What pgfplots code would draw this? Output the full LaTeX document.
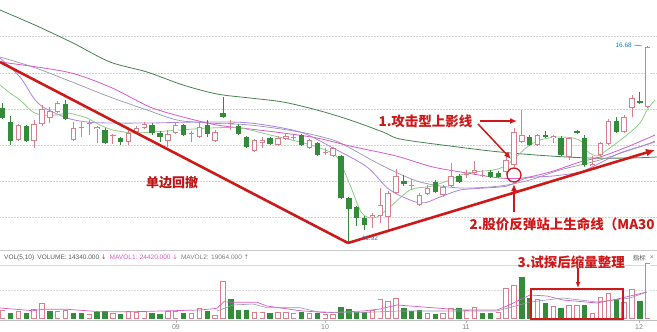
\documentclass[border=0pt]{standalone}
\usepackage{pgfplots}
\pgfplotsset{compat=1.18}
\usepackage{pgfplotstable}
\usetikzlibrary{arrows.meta}
\usepackage{fontspec}
\setmainfont{Liberation Sans}
\newfontfamily\cjk{Noto Sans CJK SC}
\newfontfamily\dvs{DejaVu Sans}
\definecolor{cg}{RGB}{52,140,58}
\definecolor{cp}{RGB}{214,128,140}
\definecolor{ar}{RGB}{205,25,25}
\definecolor{ma60}{RGB}{70,130,80}
\definecolor{mamag}{RGB}{215,90,200}
\definecolor{mapur}{RGB}{175,130,225}
\definecolor{mafive}{RGB}{140,205,130}
\definecolor{magr}{RGB}{150,150,175}
\definecolor{txtg}{RGB}{90,90,90}

\pgfplotstableread{
i t b h l
0 108 118 103 119
1 122 141 116 145
3 126 141 125 142
8 104 119 100 120
13 130 143 128 144
15 138 142 137 145
19 125 133 123 135
20 133 137 131 142
23 125 135 124 136
26 125 134 120 137
28 113 117 97 118
30 126 134 124 135
31 137 147 136 148
34 138 144 137 145
38 135 145 134 146
40 143 155 142 156
43 156 198 155 199
44 198 209 197 242
45 207 218 206 226
46 218 225 216 230
51 181 184 175 186
55 182 192 180 193
58 176 182 174 183
62 172 177 170 178
63 173 177 171 178
67 137 145 135 146
69 135 137 131 138
71 138 155 136 156
73 131 133 130 134
74 138 165 135 167
78 121 132 117 133
81 101 102.5 92 104
}\greenc

\pgfplotstableread{
i t b h l
2 125 140 124 141
4 124 141 120 148
5 109 124 105 126
6 111 118 107 123
7 103 112 101 113
9 128 140 122 141
10 127 128 122 137
11 123 124 120 135
12 127 129 126 143
14 135 136 134 144
16 133 142 128 145
17 128 132 126 134
18 124 128 122 129
21 134 141 130 147
22 125 133 123 134
24 133 134 131 142
25 127 137 123 138
27 132 141 130 142
29 123 124 120 130
32 140 151 139 152
33 140 143 137 148
35 138 145 136 146
36 136 139 134 140
37 137 138 135 140
39 140 148 139 149
41 152 153 148 155
42 148 156 147 157
47 215 217 213 228
48 205 216 188 223
49 193 217 191 230
50 176 193 169 194
52 185 186 179 190
53 195 205 193 206
54 188 194 185 195
56 187 195 185 197
57 176 186 163 187
59 174 175 170 178
60 170 173 161 175
61 175 176 170 177
64 160 172 152 174
65 132 165 128 167
66 135 142 110 143
68 135 145 134 146
70 136 138 135 143
72 138 157 137 160
75 164 166 156 167
76 143 155 142 157
77 121 144 119 145
79 117 132 115 133
80 98 108 95 117
82 47 107 46 108
}\hollowc

\pgfplotstableread{
i v
1 312.7
3 313.3
6 311
9 313.3
10 312.7
12 311.7
13 310.7
15 314
19 312.7
20 314
23 312.7
26 311
29 299
30 310
31 310
34 312.7
38 311.7
40 312.7
43 306.7
44 309
45 311.7
46 311.7
51 308.3
52 310.7
53 310
55 314
58 308.3
61 312.7
62 312.7
66 276.7
67 298.3
69 303.3
71 307.7
74 305
78 299.3
81 300.7
}\greenv

\pgfplotstableread{
i v
0 310
2 310.7
4 309.3
5 303.3
7 311
8 310
11 314
14 312.7
16 311
17 311.7
18 311
21 310.7
22 310.7
24 312.7
25 307.7
27 315
28 281
32 311.7
33 311.7
35 311.7
36 311.7
37 312.7
39 312.7
41 314
42 314
47 310
48 299.3
49 300.7
50 298.3
54 313.3
56 312.7
57 308.3
59 310
60 306.7
63 311.7
64 288.3
65 285
68 299.3
70 306
72 305
73 305
75 312.7
76 296.7
77 293.3
79 301.7
80 289.3
82 263.3
}\hollowv

\pgfplotsset{
  bars/.style 2 args={draw=none, no markers, error bars/.cd, y dir=plus, y explicit, error mark=none,
    error bar style={draw=#1, solid, line width=#2}},
}

\begin{document}
\begin{tikzpicture}[x=1pt,y=1pt]
\useasboundingbox (0,0) rectangle (657,332);
\begin{axis}[
  at={(0,0)}, anchor=south west,
  width=657pt, height=332pt, scale only axis,
  xmin=0, xmax=657, ymin=0, ymax=332, y dir=reverse,
  axis lines=none, clip=true,
]
% grid lines
\foreach \yy in {36,73,109,145,181,217} {
  \edef\tmp{\noexpand\draw[gray!35, densely dotted, line width=0.5pt] (axis cs:0,\yy) -- (axis cs:657,\yy);}\tmp
}
\draw[gray!40, line width=0.5pt] (axis cs:0,250) -- (axis cs:657,250);
\draw[gray!30, line width=0.5pt] (axis cs:0,265) -- (axis cs:657,265);
\draw[gray!30, densely dotted, line width=0.5pt] (axis cs:0,290) -- (axis cs:657,290);
\draw[gray!50, line width=0.5pt] (axis cs:0,320) -- (axis cs:657,320);
\foreach \xx in {176,325,466,639} {
  \edef\tmp{\noexpand\draw[gray!60, line width=0.5pt] (axis cs:\xx,320) -- (axis cs:\xx,323);}\tmp
}

% moving averages (price panel)
\addplot[ma60, line width=0.8pt, smooth] coordinates {(0,10)(37,26)(73,43)(110,62)(147,72)(183,85)(217,94)(250,98)(283,102)(317,110)(350,120)(383,132)(400,139)(450,146)(500,152)(550,156)(590,158)(630,158)(657,157)};
\addplot[magr, line width=0.7pt, smooth] coordinates {(0,57)(33,67)(67,80)(110,97)(147,110)(177,120)(207,123)(250,125)(300,132)(333,140)(350,148)(383,166)(420,182)(460,188)(500,186)(530,180)(560,170)(600,160)(630,150)(655,142)};
\addplot[mamag, line width=0.8pt, smooth] coordinates {(0,62)(67,72)(110,87)(150,107)(183,117)(217,125)(250,129)(283,133)(317,138)(350,146)(383,153)(400,157)(433,167)(467,173)(500,178)(523,178)(550,172)(580,162)(600,157)(627,147)(655,135)};
\addplot[mapur, line width=0.8pt, smooth] coordinates {(0,58)(20,77)(33,97)(43,107)(67,118)(87,122)(110,123)(150,123)(200,122)(250,123)(300,132)(333,148)(367,167)(390,190)(420,203)(440,197)(460,190)(485,188)(507,186)(527,178)(553,176)(580,172)(600,163)(620,153)(645,145)(655,141)};
\addplot[mafive, line width=0.8pt, smooth] coordinates {(0,85)(10,93)(20,100)(33,112)(43,115)(57,115)(67,113)(77,115)(87,118)(100,125)(113,130)(133,133)(153,132)(180,130)(210,128)(240,128)(270,135)(300,142)(320,148)(337,157)(350,185)(360,210)(367,217)(377,217)(390,207)(410,190)(427,187)(433,186)(450,180)(467,173)(493,170)(503,167)(513,160)(527,147)(540,140)(557,137)(573,138)(582,142)(587,151)(597,156)(607,150)(627,135)(640,123)(647,110)(655,100)};

% candles: wicks
\addplot[bars={cg}{0.8pt}]
  table[x expr=2.7+7.866*\thisrow{i}, y=h, y error plus expr=\thisrow{l}-\thisrow{h}] {\greenc};
\addplot[bars={cp}{0.8pt}]
  table[x expr=2.7+7.866*\thisrow{i}, y=h, y error plus expr=\thisrow{l}-\thisrow{h}] {\hollowc};
% bodies
\addplot[bars={cg}{5.4pt}]
  table[x expr=2.7+7.866*\thisrow{i}, y=t, y error plus expr=\thisrow{b}-\thisrow{t}] {\greenc};
\addplot[bars={cp}{5.4pt}]
  table[x expr=2.7+7.866*\thisrow{i}, y=t, y error plus expr={max(\thisrow{b}-\thisrow{t},1)}] {\hollowc};
\addplot[bars={white}{3.6pt}]
  table[x expr=2.7+7.866*\thisrow{i}, y expr=\thisrow{t}+0.9, y error plus expr={max(\thisrow{b}-\thisrow{t}-1.8,0)}] {\hollowc};

% volume bars
\addplot[bars={cg}{5.4pt}]
  table[x expr=2.7+7.866*\thisrow{i}, y=v, y error plus expr=319-\thisrow{v}] {\greenv};
\addplot[bars={cp}{5.4pt}]
  table[x expr=2.7+7.866*\thisrow{i}, y=v, y error plus expr=319-\thisrow{v}] {\hollowv};
\addplot[bars={white}{3.6pt}]
  table[x expr=2.7+7.866*\thisrow{i}, y expr=\thisrow{v}+0.9, y error plus expr=319-\thisrow{v}-1.8] {\hollowv};

% volume MAs
\addplot[mamag, line width=0.7pt] coordinates {(0,308)(33,310.7)(43,309.3)(67,309.3)(100,311.7)(133,311.7)(200,310)(217,308.3)(224,301.7)(233,302.3)(257,302.3)(267,306)(300,310.7)(327,312.7)(363,311)(380,309)(397,305)(423,307)(463,310)(497,310)(507,306)(530,295)(547,296)(563,300)(597,303)(613,300)(647,292)};
\addplot[magr, line width=0.6pt] coordinates {(217,311)(233,305)(253,304)(267,307.7)(300,307.7)(317,311.7)(350,313)(400,311)(480,311)(497,311)(530,302)(563,298)(597,302)(630,298)(647,292)};

% annotations
\draw[ar, line width=2.6pt] (axis cs:0,62) -- (axis cs:348,243);
\draw[ar, line width=2.6pt, -{Latex[length=9pt,width=8pt]}] (axis cs:348,243) -- (axis cs:655,150);
\node[text=ar!90!black, font=\cjk\bfseries\fontsize{13}{13}\selectfont] at (axis cs:172,183) {单边回撤};
\node[text=ar, font=\cjk\bfseries\fontsize{13.5}{14}\selectfont, anchor=west] at (axis cs:375,121) {1.攻击型上影线};
\draw[ar, line width=1.5pt, -{Latex[length=7pt,width=6pt]}] (axis cs:480,121) -- (axis cs:517,121);
\draw[ar, line width=1.5pt, -{Latex[length=7pt,width=6pt]}] (axis cs:478,124) -- (axis cs:511,159);
\draw[ar, line width=1.3pt] (axis cs:514,175) circle[radius=7pt];
\draw[ar, line width=1.5pt, -{Latex[length=7pt,width=6pt]}] (axis cs:514,212) -- (axis cs:514,184);
\node[text=ar, font=\cjk\bfseries\fontsize{13.5}{14}\selectfont, anchor=west] at (axis cs:466,224) {2.股价反弹站上生命线（MA30};
\node[text=ar, font=\cjk\bfseries\fontsize{13.5}{14}\selectfont, anchor=west] at (axis cs:514,262) {3.试探后缩量整理};
\draw[ar, line width=1.5pt, -{Latex[length=6pt,width=5pt]}] (axis cs:578,268) -- (axis cs:578,288);
\draw[ar, line width=1.6pt] (axis cs:531,289) rectangle (axis cs:623,319);

% labels
\node[text=txtg, font=\fontsize{6.5}{7}\selectfont, anchor=west, inner sep=0pt] at (axis cs:4,257.5)
 {VOL(5,10)\enspace VOLUME: 14340.000 {\dvs\color{txtg}↓}\enspace \textcolor{mamag}{MAVOL1: 24420.000 {\dvs ↓}}\enspace \textcolor{gray}{MAVOL2: 19064.000 {\dvs ↑}}};
\node[text=txtg, font=\cjk\fontsize{6.5}{7}\selectfont, anchor=east, inner sep=0pt] at (axis cs:646,258) {指标};
\node[text=gray, font=\fontsize{7}{7}\selectfont, inner sep=0pt] at (axis cs:652,258) {×};
\node[text=cyan!60!blue, font=\fontsize{6.5}{7}\selectfont, anchor=east, inner sep=0pt] at (axis cs:632,45) {16.68};
\draw[cyan!60!blue, line width=0.5pt] (axis cs:634,45) -- (axis cs:642,46);
\node[text=cyan!60!blue, font=\fontsize{6.5}{7}\selectfont, anchor=west, inner sep=0pt] at (axis cs:362,238) {11.92};
\foreach \xx/\ll in {176/09,325/10,466/11,639/12} {
  \edef\tmp{\noexpand\node[text=gray, font=\noexpand\fontsize{7}{7}\noexpand\selectfont] at (axis cs:\xx,327.5) {\ll};}\tmp
}
\end{axis}
\end{tikzpicture}
\end{document}
